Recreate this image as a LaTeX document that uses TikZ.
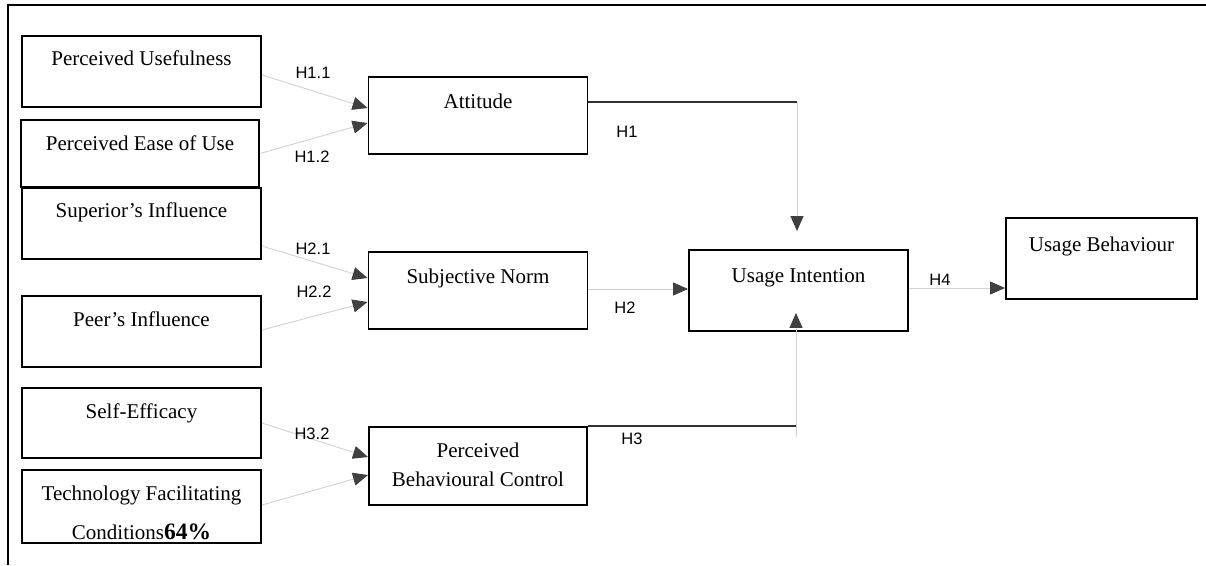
\documentclass[tikz,border=0pt]{standalone}
\usepackage{fontspec}
\setmainfont{Liberation Serif}
\newfontfamily\lsans{Liberation Sans}
\usetikzlibrary{arrows.meta}
\definecolor{tipgray}{HTML}{404040}
\definecolor{linegray}{HTML}{D2D2D2}
\definecolor{darkline}{HTML}{303030}
\begin{document}
\begin{tikzpicture}[x=1pt,y=-1pt,
  box/.style={draw=black, line width=1.9pt, inner sep=0pt},
  txt/.style={anchor=base, inner sep=0pt, align=center, font=\fontsize{21}{29}\selectfont},
  conn/.style={draw=linegray, line width=0.9pt, -{Triangle[length=15pt,width=13pt,color=tipgray]}},
  darkln/.style={draw=darkline, line width=1.7pt},
  hlab/.style={inner sep=0pt, font=\lsans\fontsize{16.5}{18}\selectfont}]
\useasboundingbox (0,0) rectangle (1206,565);
\draw[line width=2.6pt] (8,565) -- (8,5) -- (1206,5);

% boxes
\node[box, minimum width=239pt, minimum height=71pt] (pu) at (141.5,71.5) {};
\node[box, minimum width=238pt, minimum height=67pt] (peou) at (140,153.5) {};
\node[box, minimum width=239pt, minimum height=71pt] (si) at (141.5,223.5) {};
\node[box, minimum width=239pt, minimum height=71pt] (peer) at (141.5,331.5) {};
\node[box, minimum width=239pt, minimum height=70pt] (se) at (141.5,423) {};
\node[box, minimum width=239pt, minimum height=73pt] (tfc) at (141.5,506.5) {};
\node[box, minimum width=219pt, minimum height=77pt] (att) at (478,115.5) {};
\node[box, minimum width=219pt, minimum height=77pt] (sn) at (478,290.5) {};
\node[box, minimum width=218pt, minimum height=78pt] (pbc) at (478,466) {};
\node[box, minimum width=219pt, minimum height=81pt] (ui) at (798.5,290.5) {};
\node[box, minimum width=191pt, minimum height=81pt] (ub) at (1101.5,258.5) {};

% texts
\node[txt] (tpu) at ([yshift=-30pt]pu.north) {Perceived Usefulness};
\node[txt] (tpeou) at ([yshift=-31pt]peou.north) {Perceived Ease of Use};
\node[txt] (tsi) at ([yshift=-30pt]si.north) {Superior’s Influence};
\node[txt] (tpeer) at ([yshift=-31pt]peer.north) {Peer’s Influence};
\node[txt] (tse) at ([yshift=-31pt]se.north) {Self-Efficacy};
\node[txt] (ttfc) at ([yshift=-70pt]tfc.north) {Technology Facilitating\\[10pt]Conditions{\fontsize{23.5}{29}\selectfont\bfseries 64\%}};
\node[txt] (tatt) at ([yshift=-32pt]att.north) {Attitude};
\node[txt] (tsn) at ([yshift=-32pt]sn.north) {Subjective Norm};
\node[txt] (tpbc) at ([yshift=-60pt]pbc.north) {Perceived\\Behavioural Control};
\node[txt] (tui) at ([yshift=-33pt]ui.north) {Usage Intention};
\node[txt] (tub) at ([yshift=-34pt]ub.north) {Usage Behaviour};

% connectors into the middle column
\draw[conn] ([yshift=-3.5pt]pu.east) -- ([yshift=7.5pt]att.west);
\draw[conn] (peou.east) -- ([yshift=-7.5pt]att.west);
\draw[conn] ([yshift=-22.5pt]si.east) -- ([yshift=12.5pt]sn.west);
\draw[conn] ([yshift=1.5pt]peer.east) -- ([yshift=-11.5pt]sn.west);
\draw[conn] (se.east) -- ([yshift=9pt]pbc.west);
\draw[conn] ([yshift=1.5pt]tfc.east) -- ([yshift=-9pt]pbc.west);

% H1
\coordinate (h1c) at (797,102);
\draw[darkln] ([yshift=13.5pt]att.east) -- (h1c);
\draw[conn] (h1c) -- ([yshift=18pt]ui.north -| h1c);
% H2
\draw[conn] ([yshift=1.5pt]sn.east) -- ([yshift=1.5pt]ui.west);
% H3
\coordinate (h3c) at (796,426);
\coordinate (h3b) at (796,437);
\draw[darkln] (pbc.north east) -- (h3c);
\draw[conn] (h3b) -- ([yshift=19pt]ui.south -| h3c);
% H4
\draw[conn] ([yshift=2.5pt]ui.east) -- ([yshift=2.5pt]ui.east -| ub.west);

% labels
\node[hlab] (l11) at (313,73) {H1.1};
\node[hlab] (l12) at (312,157) {H1.2};
\node[hlab] (l21) at (313,249) {H2.1};
\node[hlab] (l22) at (314,292) {H2.2};
\node[hlab] (l32) at (312,434) {H3.2};
\node[hlab] (l1) at (627,132) {H1};
\node[hlab] (l2) at (625,308) {H2};
\node[hlab] (l3) at (632,439) {H3};
\node[hlab] (l4) at (940,280) {H4};
\end{tikzpicture}
\end{document}
